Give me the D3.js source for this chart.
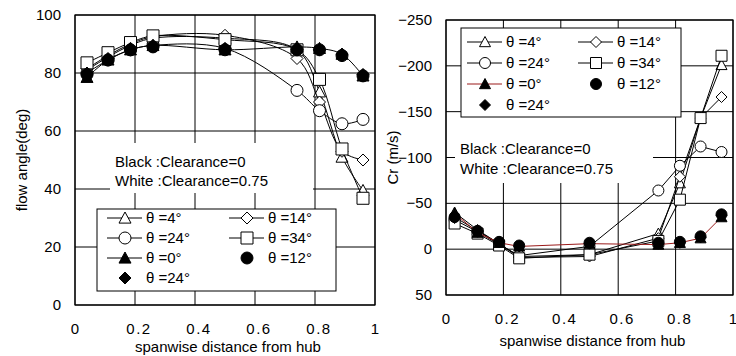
<!DOCTYPE html>
<html lang="en">
<head>
<meta charset="utf-8">
<title>Flow angle and Cr along the span</title>
<style>
  body { margin: 0; background: #fff; }
  svg text { font-family: "Liberation Sans", Arial, sans-serif; fill: #000; }
</style>
<script src="https://cdn.jsdelivr.net/npm/d3@7/dist/d3.min.js"></script>
</head>
<body>
<svg id="chart" width="736" height="356"></svg>
<script>
// spanwise stations
var spanFlow = [0.04, 0.11, 0.185, 0.26, 0.5, 0.74, 0.815, 0.89, 0.96];
var spanCr = [0.03, 0.11, 0.185, 0.255, 0.5, 0.74, 0.815, 0.887, 0.96];

var spanTicks = [0, 0.2, 0.4, 0.6, 0.8, 1];
var flowTicks = [0, 20, 40, 60, 80, 100];
var crTicks = [-250, -200, -150, -100, -50, 0, 50];

// legend order (Excel fills the 2 columns row by row)
var seriesNames = ["θ =4°", "θ =14°", "θ =24°", "θ =34°", "θ =0°", "θ =12°", "θ =24°"];
var seriesShapes = ["triangle", "diamond", "circle", "square", "triangle", "circle", "diamond"];
var seriesFill = ["#fff", "#fff", "#fff", "#fff", "#000", "#000", "#000"];
var seriesHasLine = [true, true, true, true, true, false, false];

// flow angle (deg)
var flow4 = [81, 85.5, 89.5, 92, 92, 88, 73.5, 51, 39.5];
var flow14 = [81.5, 86, 90, 92.5, 93, 85, 70, 53, 50];
var flow24 = [80, 84.5, 88, 89.5, 88.5, 74, 67, 62.5, 64];
var flow34 = [83.5, 87, 90.5, 92.8, 91.5, 88, 77.8, 53.8, 36.8];
var flow0b = [78.5, 84.5, 88, 89.5, 88, 89, 88.5, 86.5, 79];
var flow12b = [79.5, 84.5, 88, 89, 88, 88, 88, 86, 79];
var flow24b = [80, 85, 88.5, 89.5, 88.5, 88, 88, 86.5, 79.5];

// Cr (m/s)
var cr4 = [-40, -21, -6, 8, 6, -17, -72, -143, -201];
var cr14 = [-35, -20, -6, 9, 8, -12, -79, -143, -166];
var cr24 = [-32, -19, -5, 7, -3, -64, -91, -112, -106];
var cr34 = [-28, -17, -4, 10, 6, -9, -54, -143, -211];
var cr0b = [-39, -18, -7, -3, -6, -5, -7, -12, -35];
var cr12b = [-35, -20, -8, -4, -7, -7, -8, -14, -38];
var cr24b = [-34, -19, -8, -3, -6, -6, -7, -13, -37];

var svg = d3.select("#chart");

// marker outlines, s = half size
function markerPath(shape, s) {
  if (shape == "circle") {
    return "M" + (-s) + ",0A" + s + "," + s + " 0 1,0 " + s + ",0A" + s + "," + s + " 0 1,0 " + (-s) + ",0Z";
  }
  if (shape == "square") {
    return "M" + (-s) + "," + (-s) + "H" + s + "V" + s + "H" + (-s) + "Z";
  }
  if (shape == "triangle") {
    return "M0," + (-s) + "L" + s + "," + (s * 0.85) + "L" + (-s) + "," + (s * 0.85) + "Z";
  }
  return "M0," + (-s) + "L" + s + ",0L0," + s + "L" + (-s) + ",0Z";
}

function drawPanel(cfg) {
  var x = d3.scaleLinear().domain([0, 1]).range([cfg.left, cfg.right]);
  var y = d3.scaleLinear().domain(cfg.yDomain).range([cfg.bottom, cfg.top]);
  var g = svg.append("g");

  // grid
  g.selectAll(".hg").data(cfg.yTicks).enter().append("line")
    .attr("x1", cfg.left).attr("x2", cfg.right)
    .attr("y1", function (d) { return y(d); }).attr("y2", function (d) { return y(d); })
    .attr("stroke", "#000").attr("stroke-width", 1);
  g.selectAll(".vg").data(spanTicks).enter().append("line")
    .attr("y1", cfg.top).attr("y2", cfg.bottom)
    .attr("x1", function (d) { return x(d); }).attr("x2", function (d) { return x(d); })
    .attr("stroke", "#000").attr("stroke-width", 1);

  // y tick labels
  g.selectAll(".yl").data(cfg.yTicks).enter().append("text")
    .attr("x", cfg.left - 14).attr("y", function (d) { return y(d) + 5; })
    .attr("text-anchor", "end").attr("font-size", 15)
    .text(function (d) { return d < 0 ? "\u2212" + (-d) : d; });

  // x tick labels
  g.selectAll(".xl").data(spanTicks).enter().append("text")
    .attr("x", function (d) { return x(d) + (d > 0 && d < 1 ? 4 : 0); })
    .attr("y", cfg.bottom + cfg.xLabelGap)
    .attr("text-anchor", "middle").attr("font-size", 15)
    .attr("letter-spacing", function (d) { return d > 0 && d < 1 ? 1.5 : 0; })
    .text(function (d) { return d; });

  g.append("text")
    .attr("x", (cfg.left + cfg.right) / 2 + 3).attr("y", cfg.bottom + cfg.titleGap)
    .attr("text-anchor", "middle").attr("font-size", 15)
    .text("spanwise distance from hub");
  g.append("text")
    .attr("transform", "translate(" + (cfg.left - 48) + "," + ((cfg.top + cfg.bottom) / 2) + ") rotate(-90)")
    .attr("text-anchor", "middle").attr("font-size", 15)
    .text(cfg.yTitle);

  // series: lines first then markers, in series order
  var line = d3.line()
    .x(function (d) { return x(d[0]); })
    .y(function (d) { return y(d[1]); })
    .curve(cfg.smooth ? d3.curveCatmullRom.alpha(0.5) : d3.curveLinear);

  cfg.series.forEach(function (vals, i) {
    var pts = vals.map(function (v, k) { return [cfg.span[k], v]; });
    if (seriesHasLine[i]) {
      g.append("path").datum(pts)
        .attr("d", line).attr("fill", "none")
        .attr("stroke", i == 4 ? cfg.zeroColor : "#000").attr("stroke-width", 1);
    }
    g.selectAll(".m" + i).data(pts).enter().append("path")
      .attr("transform", function (d) { return "translate(" + x(d[0]) + "," + y(d[1]) + ")"; })
      .attr("d", markerPath(seriesShapes[i], cfg.markerSize))
      .attr("fill", seriesFill[i]).attr("stroke", "#000").attr("stroke-width", 1);
  });

  // white text box
  var tb = cfg.textBox;
  g.append("rect").attr("x", tb.x).attr("y", tb.y).attr("width", tb.w).attr("height", tb.h).attr("fill", "#fff");
  g.append("text").attr("x", tb.x + 5).attr("y", tb.line1).attr("font-size", 15).text("Black :Clearance=0");
  g.append("text").attr("x", tb.x + 5).attr("y", tb.line2).attr("font-size", 15).text("White :Clearance=0.75");

  // legend
  var lg = cfg.legend;
  g.append("rect").attr("x", lg.x).attr("y", lg.y).attr("width", lg.w).attr("height", lg.h)
    .attr("fill", "#fff").attr("stroke", "#000").attr("stroke-width", 1);
  seriesNames.forEach(function (name, i) {
    var col = i % 2, row = Math.floor(i / 2);
    var cx = lg.colX[col], cy = lg.rowY[row];
    if (seriesHasLine[i]) {
      g.append("line").attr("x1", cx - 18).attr("x2", cx + 17).attr("y1", cy).attr("y2", cy)
        .attr("stroke", i == 4 ? cfg.zeroColor : "#000").attr("stroke-width", 1);
    }
    g.append("path").attr("transform", "translate(" + cx + "," + cy + ")")
      .attr("d", markerPath(seriesShapes[i], cfg.markerSize))
      .attr("fill", seriesFill[i]).attr("stroke", "#000");
    g.append("text").attr("x", cx + 21).attr("y", cy + 5).attr("font-size", 15).text(name);
  });

  // frame
  g.append("rect").attr("x", cfg.left).attr("y", cfg.top)
    .attr("width", cfg.right - cfg.left).attr("height", cfg.bottom - cfg.top)
    .attr("fill", "none").attr("stroke", "#000").attr("stroke-width", 1.2);
}

drawPanel({
  left: 75, right: 375, top: 15, bottom: 305,
  yDomain: [0, 100], yTicks: flowTicks, yTitle: "flow angle(deg)",
  span: spanFlow, smooth: true, zeroColor: "#000", markerSize: 6,
  xLabelGap: 29, titleGap: 47,
  series: [flow4, flow14, flow24, flow34, flow0b, flow12b, flow24b],
  textBox: { x: 110, y: 143, w: 203, h: 50, line1: 167, line2: 186 },
  legend: { x: 97, y: 209, w: 239, h: 82, colX: [125, 247], rowY: [218, 238, 258, 278] }
});

drawPanel({
  left: 446, right: 733, top: 20, bottom: 295,
  yDomain: [50, -250], yTicks: crTicks, yTitle: "Cr (m/s)",
  span: spanCr, smooth: false, zeroColor: "#9b1b1b", markerSize: 5.5,
  xLabelGap: 29, titleGap: 51,
  series: [cr4, cr14, cr24, cr34, cr0b, cr12b, cr24b],
  textBox: { x: 455, y: 117, w: 198, h: 66, line1: 154, line2: 174 },
  legend: { x: 461, y: 28, w: 220, h: 89, colX: [485, 596], rowY: [42, 63, 84, 105] }
});
</script>
</body>
</html>
